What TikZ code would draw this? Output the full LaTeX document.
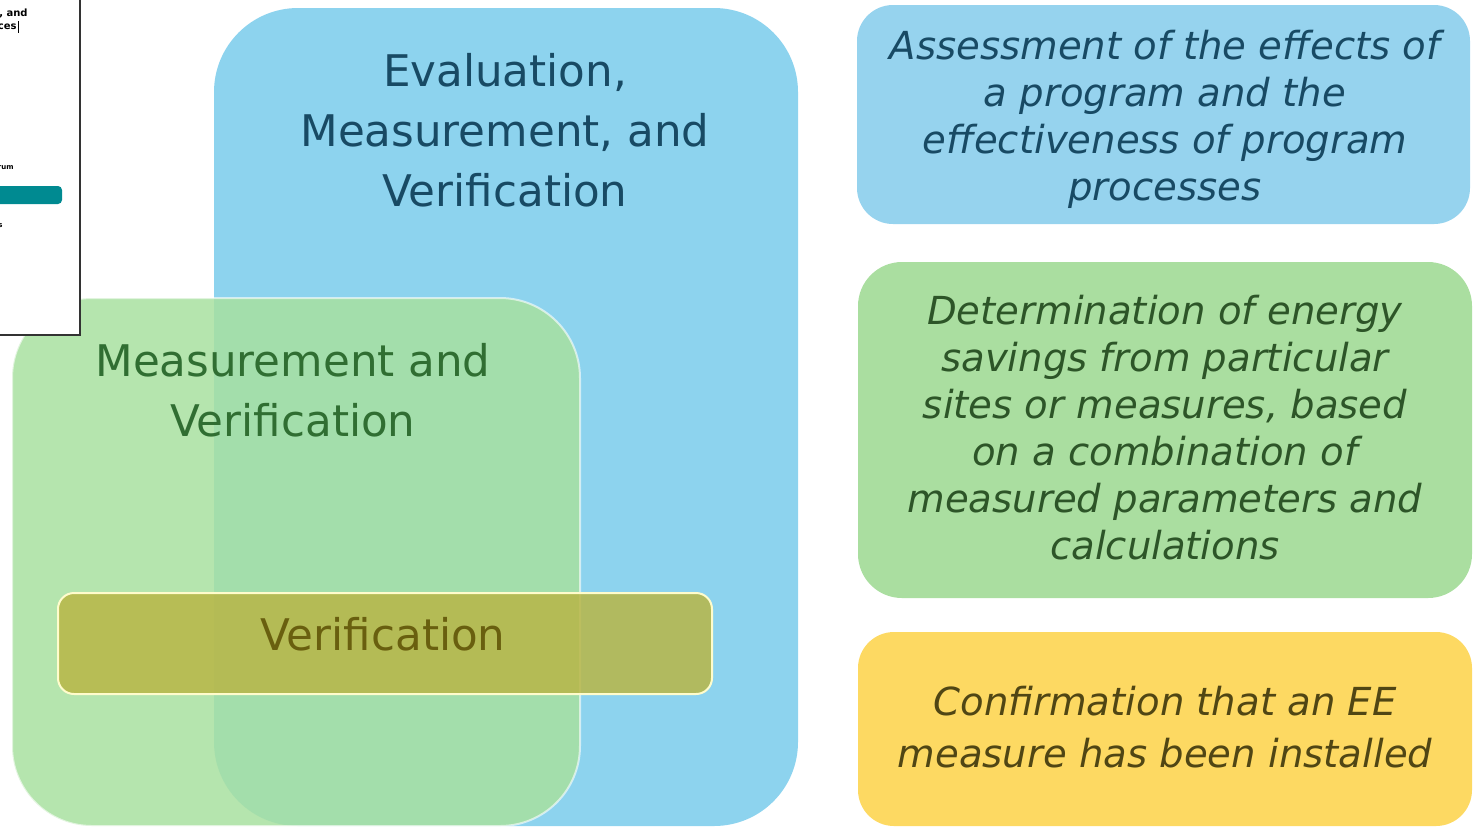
\documentclass[tikz,border=0pt]{standalone}
\usepackage{fontspec}
\setmainfont{DejaVu Sans}
\usepackage{xcolor}
\usetikzlibrary{positioning}
\definecolor{evmblue}{RGB}{141,211,238}
\definecolor{mvgreen}{RGB}{168,224,160}
\definecolor{verolive}{RGB}{184,182,70}
\definecolor{descblue}{RGB}{150,211,238}
\definecolor{descgreen}{RGB}{170,222,160}
\definecolor{descyellow}{RGB}{253,217,98}
\definecolor{bluetext}{RGB}{24,74,100}
\definecolor{greentext}{RGB}{48,110,50}
\definecolor{olivetext}{RGB}{105,95,15}
\definecolor{descgreentext}{RGB}{45,85,40}
\definecolor{descyellowtext}{RGB}{80,70,20}
\definecolor{shotteal}{RGB}{0,138,145}
\tikzset{bigtext/.style={align=center, font=\fontsize{21.8}{30}\selectfont}}
\tikzset{desctext/.style={align=center, font=\fontsize{19.3}{23.5}\selectfont\itshape}}
\tikzset{shottext/.style={font=\fontsize{5}{6}\selectfont\bfseries, inner sep=0pt}}
\begin{document}
\begin{tikzpicture}[x=0.5pt, y=-0.5pt]
    \useasboundingbox (0,0) rectangle (1479,827);

    % nested boxes
    \fill [evmblue, rounded corners=42pt] (214,8) rectangle (798,826);
    \draw [fill=mvgreen, fill opacity=0.85, draw=white, draw opacity=0.6, line width=1pt, rounded corners=40pt] (12,298) rectangle (580,826);
    \draw [fill=verolive, fill opacity=0.85, draw=white!80!yellow, line width=1pt, rounded corners=8pt] (58,593) rectangle (712,694);

    \node [bigtext, text=bluetext] (evm) at (505,130) {Evaluation,\\Measurement, and\\Verification};
    \node [bigtext, text=greentext] (mv) at (293,390) {Measurement and\\Verification};
    \node [bigtext, text=olivetext] (ver) at (383,634) {Verification};

    % descriptions
    \fill [descblue, rounded corners=18pt] (857,5) rectangle (1470,224);
    \fill [descgreen, rounded corners=22pt] (858,262) rectangle (1472,598);
    \fill [descyellow, rounded corners=18pt] (858,632) rectangle (1472,826);

    \node [desctext, text=bluetext] (evmdesc) at (1165,119) {Assessment of the effects of\\a program and the\\effectiveness of program\\processes};
    \node [desctext, text=descgreentext] (mvdesc) at (1165,428) {Determination of energy\\savings from particular\\sites or measures, based\\on a combination of\\measured parameters and\\calculations};
    \node [desctext, text=descyellowtext, font=\fontsize{19.3}{26}\selectfont\itshape] (verdesc) at (1165,727) {Confirmation that an EE\\measure has been installed};

    % pasted screenshot corner
    \draw [fill=white, draw=black!80, line width=1pt] (-5,-5) rectangle (80,335);
    \begin{scope}
        \clip (0,0) rectangle (79,334);
        \node [shottext, anchor=east] (shota) at (28,13) {s, and};
        \node [shottext, anchor=east] (shotb) at (17,27) {ces};
        \draw [black, line width=0.3pt] (shotb.east) ++(1,-6) -- ++(0,12);
        \node [shottext, anchor=east, font=\fontsize{3.5}{4}\selectfont\bfseries] (shotc) at (14,168) {rum};
        \fill [shotteal, rounded corners=2pt] (-10,186) rectangle (62,204);
        \node [shottext, anchor=east, font=\fontsize{3.5}{4}\selectfont\bfseries] (shotd) at (3,226) {s};
    \end{scope}
\end{tikzpicture}
\end{document}
